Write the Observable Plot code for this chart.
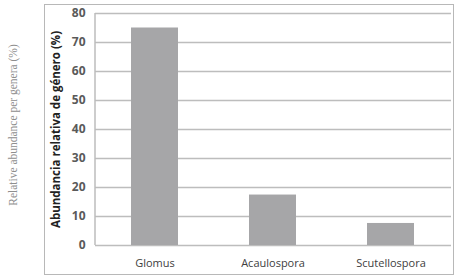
<!DOCTYPE html>
<html><head><meta charset="utf-8">
<script src="https://cdn.jsdelivr.net/npm/d3@7"></script>
<script src="https://cdn.jsdelivr.net/npm/@observablehq/plot@0.6"></script>
<style>
body{margin:0;background:#fff;}
#wrap{position:relative;width:465px;height:280px;}
#box{position:absolute;left:44px;top:4px;width:410px;height:271px;border:1px solid #b8b8b8;box-sizing:border-box;}
#outer{position:absolute;left:13px;top:125px;transform:translate(-50%,-50%) rotate(-90deg);white-space:nowrap;font-family:"Liberation Serif",serif;font-size:11.5px;color:#8e8e8e;}
</style></head>
<body><div id="wrap"><div id="box"></div><div id="outer">Relative abundance per genera (%)</div></div>
<script>
const genera = ["Glomus", "Acaulospora", "Scutellospora"];
const abundance = [75, 17.4, 7.6];
const yTicks = [0, 10, 20, 30, 40, 50, 60, 70, 80];
const data = genera.map((g, i) => ({genus: g, value: abundance[i]}));

const chart = Plot.plot({
  width: 465, height: 280,
  marginLeft: 95, marginRight: 14, marginTop: 13, marginBottom: 35,
  style: {fontFamily: "'Open Sans', sans-serif", background: "transparent", overflow: "visible"},
  x: {domain: genera, paddingInner: 0.6, paddingOuter: 0.3, label: null},
  y: {domain: [0, 80], ticks: yTicks, label: null},
  marks: [
    Plot.gridY(yTicks, {stroke: "#bdbdbd", strokeOpacity: 1, strokeWidth: 1.5}),
    Plot.barY(data, {x: "genus", y: "value", fill: "#a6a6a8", inset: 0}),
    Plot.axisY(yTicks, {tickSize: 0, tickPadding: 10, fontSize: 12, fontWeight: "bold", fill: "#5a5a5a",
      label: "Abundancia relativa de género (%)", labelAnchor: "center", labelArrow: "none", labelOffset: 44}),
    Plot.axisX({tickSize: 0, tickPadding: 14, fontSize: 11, fill: "#404040", label: null})
  ]
});
document.getElementById("wrap").appendChild(chart);
chart.style.position = "absolute"; chart.style.left = "0"; chart.style.top = "0";
// left axis line
d3.select(chart).append("line").attr("x1", 95).attr("x2", 95).attr("y1", 13).attr("y2", 245).attr("stroke", "#bdbdbd").attr("stroke-width", 1.5);
d3.select(chart).selectAll("[aria-label='y-axis label'] text").attr("font-weight", "bold").attr("fill", "#222").attr("font-size", 11.5);
</script></body></html>
